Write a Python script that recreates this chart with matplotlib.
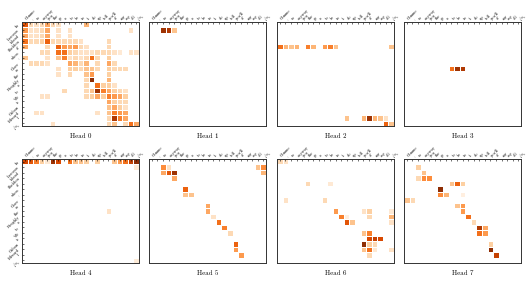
import numpy as np
import matplotlib
matplotlib.use("Agg")
import matplotlib.pyplot as plt

# tokens (keys along x, queries along y)
x_tokens = ["Gimme", ",", "so", "anyway", "you", "the", "go", "a", "to", "be",
            "in", "it", "do", "up", "tell", "you'll", "of", "my", "say", "all", "</s>"]
y_tokens = ["In", "Lascaux", "Island", "Sheldon", "of", "when", ",", "Clare", "as",
            "the", "Roughly", "a", "to", "We", "is", "Cuban", "Edward", "I", "</s>"]

# attention cells per head: (row, col, weight)
head0 = [(0, 0, .7), (0, 1, .2), (0, 2, .15), (0, 3, .2), (0, 4, .4), (0, 5, .2), (0, 6, .15),
         (0, 11, .35),
         (1, 0, .45), (1, 1, .15), (1, 2, .15), (1, 3, .2), (1, 4, .4), (1, 6, .15), (1, 8, .15), (1, 19, .15),
         (2, 0, .4), (2, 1, .15), (2, 2, .15), (2, 3, .2), (2, 4, .4), (2, 6, .15), (2, 8, .15),
         (3, 0, .6), (3, 1, .2), (3, 2, .2), (3, 3, .25), (3, 4, .65), (3, 5, .2), (3, 6, .2),
         (3, 7, .2), (3, 8, .2), (3, 9, .2), (3, 10, .15), (3, 15, .2),
         (4, 0, .4), (4, 4, .2), (4, 6, .65), (4, 7, .45), (4, 8, .4), (4, 9, .45), (4, 10, .2),
         (4, 11, .15), (4, 15, .2),
         (5, 3, .2), (5, 4, .2), (5, 6, .6), (5, 7, .6), (5, 8, .25), (5, 9, .2), (5, 10, .15),
         (5, 11, .15), (5, 12, .15), (5, 13, .2), (5, 14, .2), (5, 15, .2), (5, 16, .15),
         (5, 17, .1), (5, 19, .15), (5, 20, .15),
         (6, 0, .3), (6, 4, .15), (6, 6, .3), (6, 7, .55), (6, 8, .15), (6, 9, .2), (6, 10, .15),
         (6, 11, .2), (6, 12, .6), (6, 13, .2), (6, 15, .25),
         (7, 1, .2), (7, 2, .2), (7, 3, .2), (7, 4, .15), (7, 8, .4), (7, 9, .35), (7, 10, .2),
         (7, 11, .35), (7, 13, .2), (7, 15, .4), (7, 16, .2),
         (8, 6, .15), (8, 8, .25), (8, 9, .25), (8, 10, .2), (8, 11, .3), (8, 12, .3), (8, 13, .2),
         (8, 15, .25), (8, 16, .2), (8, 17, .2), (8, 18, .2),
         (9, 6, .15), (9, 8, .2), (9, 11, .3), (9, 12, .45), (9, 15, .25),
         (10, 11, .2), (10, 12, .95), (10, 15, .35),
         (11, 11, .2), (11, 13, .6), (11, 14, .25), (11, 15, .25), (11, 16, .15),
         (12, 7, .2), (12, 11, .2), (12, 12, .3), (12, 13, .9), (12, 14, .55), (12, 15, .4),
         (12, 16, .25), (12, 17, .2), (12, 18, .15),
         (13, 3, .15), (13, 4, .15), (13, 11, .2), (13, 12, .25), (13, 13, .4), (13, 14, .25),
         (13, 15, .55), (13, 16, .45), (13, 17, .4), (13, 18, .25),
         (14, 15, .4), (14, 16, .25), (14, 17, .2), (14, 18, .2),
         (15, 15, .3), (15, 16, .4), (15, 17, .25), (15, 18, .15),
         (16, 2, .15), (16, 3, .15), (16, 13, .15), (16, 15, .3), (16, 16, .55), (16, 17, .45),
         (16, 18, .4),
         (17, 15, .2), (17, 16, .85), (17, 17, .55), (17, 18, .4),
         (18, 5, .15), (18, 15, .2), (18, 16, .3), (18, 18, .2), (18, 19, .6), (18, 20, .4)]
head1 = [(1, 2, .9), (1, 3, .85), (1, 4, .3)]
head2 = [(4, 0, .6), (4, 1, .35), (4, 2, .3), (4, 3, .35), (4, 5, .55), (4, 6, .35),
         (4, 8, .45), (4, 9, .55), (4, 10, .3), (4, 20, .3),
         (17, 12, .3), (17, 15, .35), (17, 16, .9), (17, 17, .35), (17, 18, .3), (17, 19, .15),
         (18, 19, .65), (18, 20, .3)]
head3 = [(8, 8, .6), (8, 9, .9), (8, 10, .85)]
head4 = [(0, 0, .75), (0, 1, .7), (0, 2, .55), (0, 3, .25), (0, 4, .1), (0, 5, .9), (0, 6, .75),
         (0, 8, .6), (0, 9, .3), (0, 10, .3), (0, 11, .25), (0, 13, .25), (0, 16, .3),
         (0, 17, .45), (0, 18, .6), (0, 19, .8), (0, 20, .95),
         (1, 20, .1), (9, 15, .15), (18, 20, .08)]
head5 = [(1, 2, .5), (1, 3, .15), (1, 19, .3), (1, 20, .5),
         (2, 2, .4), (2, 3, .7), (2, 4, .9), (2, 20, .35),
         (3, 4, .4), (5, 6, .65), (6, 6, .3), (6, 7, .3), (8, 10, .4), (9, 10, .4),
         (10, 11, .15), (11, 12, .6), (12, 13, .55), (13, 14, .2), (15, 15, .65),
         (16, 15, .45), (17, 16, .45)]
head6 = [(0, 0, .2), (0, 1, .15), (4, 5, .2), (4, 9, .1), (7, 1, .15), (7, 8, .2),
         (9, 10, .45), (9, 15, .15), (9, 16, .25), (9, 20, .1),
         (10, 11, .55), (10, 12, .05), (10, 16, .2), (10, 20, .35),
         (11, 12, .7), (11, 13, .3), (11, 20, .15),
         (13, 15, .3), (13, 16, .55),
         (14, 16, .75), (14, 17, .8), (14, 18, .75),
         (15, 15, .95), (15, 16, .25), (15, 17, .2),
         (16, 15, .3), (16, 16, .6), (16, 17, .1), (16, 20, .15),
         (17, 16, .2)]
head7 = [(1, 2, .25), (2, 3, .3), (3, 2, .2), (3, 3, .5), (3, 4, .5),
         (4, 8, .3), (4, 9, .65), (4, 10, .25), (5, 6, .95), (6, 6, .5), (6, 7, .35),
         (6, 10, .05), (7, 0, .3), (7, 1, .2), (8, 9, .3), (8, 10, .45), (9, 10, .45),
         (10, 11, .6), (11, 12, .2), (12, 13, .85), (12, 14, .4), (13, 13, .6),
         (13, 14, .45), (15, 15, .25), (16, 15, .95), (17, 16, .8)]

heads = [head0, head1, head2, head3, head4, head5, head6, head7]

plt.rcParams['font.family'] = 'serif'
plt.rcParams['font.serif'] = ['cmr10', 'DejaVu Serif']
plt.rcParams['axes.formatter.use_mathtext'] = True

fig = plt.figure(figsize=(5.29, 2.82), dpi=100)
W, H = 529.0, 282.0
lefts = [22, 149, 277, 404]
tops = [22, 159]
aw, ah = 117, 104

nr, nc = len(y_tokens), len(x_tokens)
for i, cells in enumerate(heads):
    row, col = divmod(i, 4)
    ax = fig.add_axes([lefts[col] / W, 1 - (tops[row] + ah) / H, aw / W, ah / H])
    m = np.zeros((nr, nc))
    for r, c, v in cells:
        m[r, c] = v
    m = np.ma.masked_less(m, 0.01)
    ax.pcolormesh(np.arange(nc + 1), np.arange(nr + 1), m, cmap='Oranges',
                  vmin=0, vmax=1, edgecolors='white', linewidth=0.4)
    ax.set_xlim(0, nc)
    ax.set_ylim(nr, 0)
    ax.xaxis.tick_top()
    ax.set_xticks(np.arange(nc) + 0.5)
    ax.set_xticklabels(x_tokens, rotation=45, ha='left', fontsize=3)
    if col == 0:
        ax.set_yticks(np.arange(nr) + 0.5)
        ax.set_yticklabels(y_tokens, rotation=45, ha='right', fontsize=3)
    else:
        ax.set_yticks([])
    ax.tick_params(axis='both', direction='in', length=1.5, width=0.4, pad=1)
    for s in ax.spines.values():
        s.set_linewidth(0.7)
        s.set_color('#333333')
    ax.set_xlabel("Head %d" % i, fontsize=5)
    ax.xaxis.set_label_position('bottom')
    ax.xaxis.labelpad = 5

fig.savefig("out.png", dpi=100)
